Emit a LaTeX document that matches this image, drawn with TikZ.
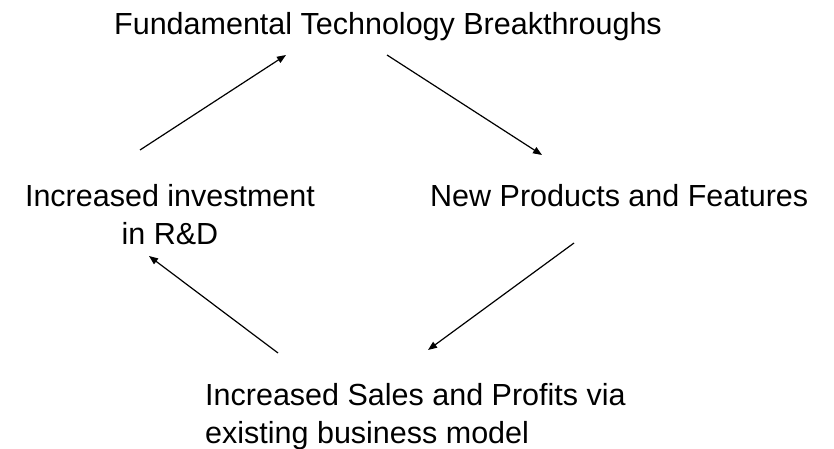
\documentclass[tikz,border=0pt]{standalone}
\usepackage{fontspec}
\setmainfont{Liberation Sans}
\usetikzlibrary{arrows.meta}

\begin{document}
\begin{tikzpicture}[
    x=1pt, y=-1pt,
    every node/.style={font=\fontsize{30.5}{38}\selectfont, inner sep=0pt},
    label/.style={anchor=base, align=center},
    arrow/.style={-{Triangle[length=9pt,width=7pt]}, line width=1.2pt}
]
\useasboundingbox (0,0) rectangle (834,449);

% base anchors sit on the last line of each label
\node[label] (fund) at (388,35) {Fundamental Technology Breakthroughs};
\node[label, anchor=base west] (products) at (430,206) {New Products and Features};
\node[label, anchor=base west, align=left] (sales) at (205,443) {Increased Sales and Profits via \\ existing business model};
\node[label] (invest) at (170,244) {Increased investment \\ in R\&D};

\draw[arrow] ([shift={(-30,-94)}]invest.base) -- ([shift={(-102,20)}]fund.base);
\draw[arrow] ([shift={(-1,20)}]fund.base) -- ([shift={(112,-51)}]products.base west);
\draw[arrow] ([shift={(144,37)}]products.base west) -- ([shift={(223,-93)}]sales.base west);
\draw[arrow] ([shift={(73,-90)}]sales.base west) -- ([shift={(-21,12)}]invest.base);

\end{tikzpicture}
\end{document}
